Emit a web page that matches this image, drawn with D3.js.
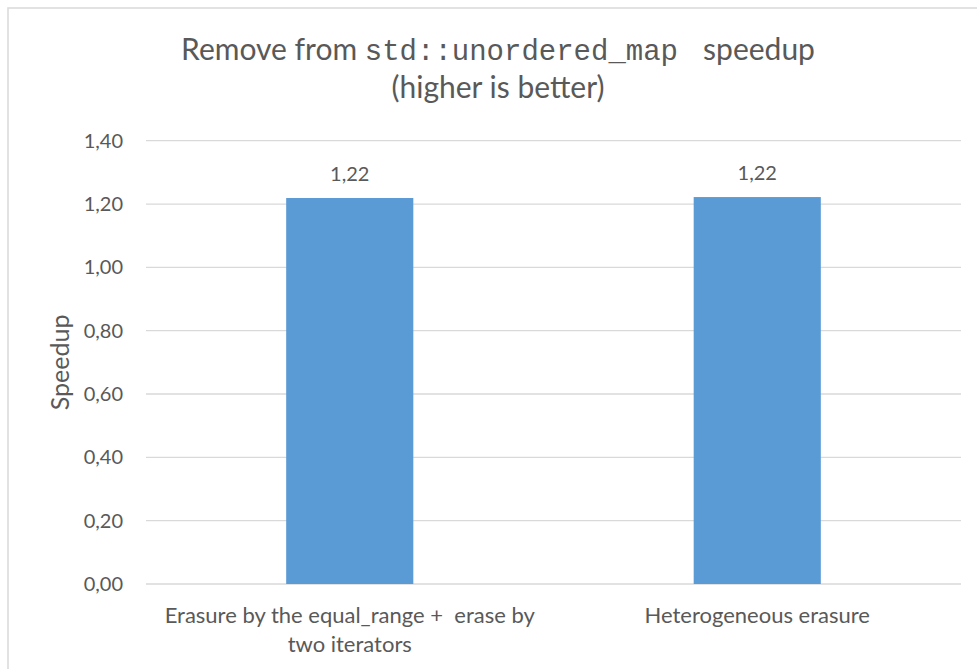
<!DOCTYPE html>
<html>
<head>
<meta charset="utf-8">
<script src="https://cdn.jsdelivr.net/npm/d3@7/dist/d3.min.js"></script>
<style>
  html, body { margin: 0; padding: 0; background: #fff; }
  svg { display: block; }
  text { font-family: Lato, "Open Sans", sans-serif; fill: #595959; white-space: pre; }
</style>
</head>
<body>
<svg id="chart" width="977" height="669"></svg>
<script>
const categories = [
  ["Erasure by the equal_range +  erase by", "two iterators"],
  ["Heterogeneous erasure"]
];
const speedups = [1.219, 1.222];
const valueLabels = ["1,22", "1,22"];
const yTicks = [0, 0.2, 0.4, 0.6, 0.8, 1.0, 1.2, 1.4];
const yTickLabels = ["0,00", "0,20", "0,40", "0,60", "0,80", "1,00", "1,20", "1,40"];
const yAxisTitle = "Speedup";

const svg = d3.select("#chart");

// outer chart border
svg.append("rect").attr("x", 8).attr("y", 8).attr("width", 990).attr("height", 700)
  .attr("fill", "#fff").attr("stroke", "#d9d9d9").attr("stroke-width", 1.5);

const plot = { left: 146, right: 961, top: 140.7, bottom: 584 };

const x = d3.scaleBand().domain(d3.range(categories.length))
  .range([plot.left, plot.right]).paddingInner(0.688).paddingOuter(0.344);
const y = d3.scaleLinear().domain([0, 1.4]).range([plot.bottom, plot.top]);

// gridlines
svg.append("g").selectAll("line").data(yTicks).join("line")
  .attr("x1", plot.left).attr("x2", plot.right)
  .attr("y1", d => y(d)).attr("y2", d => y(d))
  .attr("stroke", "#d9d9d9").attr("stroke-width", 1.3);

// y tick labels
svg.append("g").selectAll("text").data(yTicks).join("text")
  .attr("x", 123).attr("y", d => y(d)).attr("dy", "0.35em")
  .attr("text-anchor", "end").style("font-size", "20px")
  .text((d, i) => yTickLabels[i]);

// bars
svg.append("g").selectAll("rect").data(speedups).join("rect")
  .attr("x", (d, i) => x(i)).attr("width", x.bandwidth())
  .attr("y", d => y(d)).attr("height", d => y(0) - y(d))
  .attr("fill", "#5b9bd5");

// value labels
svg.append("g").selectAll("text").data(speedups).join("text")
  .attr("x", (d, i) => x(i) + x.bandwidth() / 2)
  .attr("y", d => y(d) - 17)
  .attr("text-anchor", "middle").style("font-size", "20px")
  .text((d, i) => valueLabels[i]);

// category labels
const cat = svg.append("g").selectAll("text").data(categories).join("text")
  .attr("text-anchor", "middle").style("font-size", "22px");
cat.each(function(lines, i) {
  const t = d3.select(this);
  lines.forEach((ln, j) => {
    t.append("tspan").attr("x", x(i) + x.bandwidth() / 2)
      .attr("y", 623 + j * 29).text(ln);
  });
});

// y axis title
svg.append("text")
  .attr("transform", "translate(69," + ((plot.top + plot.bottom) / 2) + ") rotate(-90)")
  .attr("text-anchor", "middle").style("font-size", "25px")
  .text(yAxisTitle);

// title
const title = svg.append("text").attr("x", 498).attr("y", 60)
  .attr("text-anchor", "middle").style("font-size", "30px");
title.append("tspan").text("Remove from ");
title.append("tspan").style("font-family", "'Liberation Mono', 'Courier New', monospace").style("font-size", "29px")
  .text("std::unordered_map ");
title.append("tspan").text(" speedup");
svg.append("text").attr("x", 498).attr("y", 98)
  .attr("text-anchor", "middle").style("font-size", "30px")
  .text("(higher is better)");
</script>
</body>
</html>
